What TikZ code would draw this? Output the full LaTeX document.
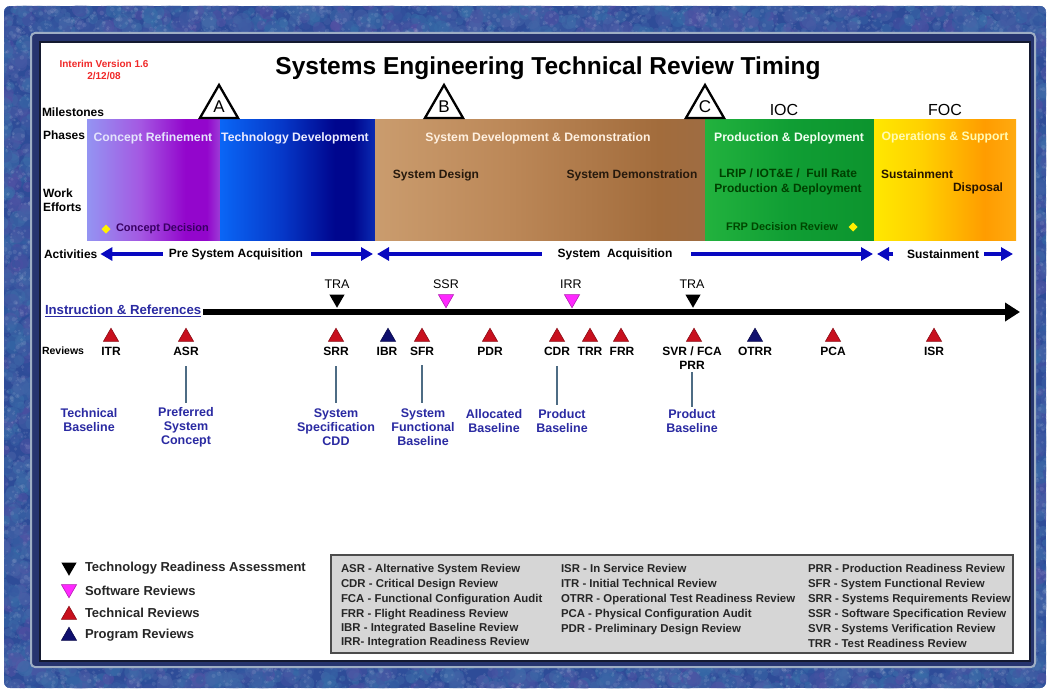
\documentclass[tikz,border=0pt]{standalone}
\usepackage{fontspec}
\setmainfont{Liberation Sans}
\usetikzlibrary{shapes.geometric,arrows.meta}
\newcommand\pxsize[2]{\fontsize{#1}{#2}\selectfont}

% frame colours
\definecolor{texA}{HTML}{2C4E9C}
\definecolor{texB}{HTML}{5E4CA4}
\definecolor{texC}{HTML}{3A7EAE}
\definecolor{texBase}{HTML}{2E4C98}
\definecolor{bevelBand}{HTML}{26346E}
\definecolor{bevelLight}{HTML}{9EAEC4}
\definecolor{panelEdge}{HTML}{141A30}
% phase bar colours
\definecolor{crA}{HTML}{9494F2}
\definecolor{crB}{HTML}{A458E2}
\definecolor{crC}{HTML}{9306CC}
\definecolor{crD}{HTML}{9C3CD6}
\definecolor{tdA}{HTML}{0A66F6}
\definecolor{tdB}{HTML}{0638C8}
\definecolor{tdC}{HTML}{00068E}
\definecolor{tdD}{HTML}{0A2CB4}
\definecolor{sdA}{HTML}{CA9C6E}
\definecolor{sdB}{HTML}{BC8858}
\definecolor{sdC}{HTML}{A26C3C}
\definecolor{sdD}{HTML}{9E6C42}
\definecolor{pdA}{HTML}{22B23E}
\definecolor{pdB}{HTML}{109E34}
\definecolor{pdC}{HTML}{0C942E}
\definecolor{osA}{HTML}{FFE800}
\definecolor{osB}{HTML}{FFD000}
\definecolor{osC}{HTML}{FF9C00}
\definecolor{osD}{HTML}{FFAA10}
% marks and text
\definecolor{revRed}{HTML}{C8101E}
\definecolor{revNavy}{HTML}{10106E}
\definecolor{swMag}{HTML}{FF28FF}
\definecolor{actBlue}{HTML}{0808C0}
\definecolor{baseBlue}{HTML}{2A2AA2}
\definecolor{connGrey}{HTML}{4E6C84}
\definecolor{boxGrey}{HTML}{D6D6D6}
\definecolor{verRed}{HTML}{F02828}
\definecolor{diaYellow}{HTML}{FFF000}

\pgfdeclarehorizontalshading{crshade}{100bp}{color(0bp)=(crA); color(25bp)=(crA); color(45bp)=(crB); color(62bp)=(crC); color(70bp)=(crC); color(75bp)=(crD); color(100bp)=(crD)}
\pgfdeclarehorizontalshading{tdshade}{100bp}{color(0bp)=(tdA); color(25bp)=(tdA); color(45bp)=(tdB); color(62bp)=(tdC); color(68bp)=(tdC); color(75bp)=(tdD); color(100bp)=(tdD)}
\pgfdeclarehorizontalshading{sdshade}{100bp}{color(0bp)=(sdA); color(25bp)=(sdA); color(45bp)=(sdB); color(68bp)=(sdC); color(75bp)=(sdD); color(100bp)=(sdD)}
\pgfdeclarehorizontalshading{pdshade}{100bp}{color(0bp)=(pdA); color(25bp)=(pdA); color(50bp)=(pdB); color(75bp)=(pdC); color(100bp)=(pdC)}
\pgfdeclarehorizontalshading{osshade}{100bp}{color(0bp)=(osA); color(25bp)=(osA); color(42bp)=(osB); color(64bp)=(osC); color(75bp)=(osD); color(100bp)=(osD)}

% mottled frame: soft blobs scattered over a strip (#1,#2 origin, #3 x #4 size, #5 count)
\newcommand\texblobs[5]{%
  \foreach \k in {1,...,#5}{%
    \pgfmathsetmacro\bx{#1+rnd*#3}%
    \pgfmathsetmacro\by{#2+rnd*#4}%
    \pgfmathsetmacro\br{2.5+rnd*6}%
    \pgfmathrandominteger{\ra}{0}{100}%
    \pgfmathrandominteger{\rb}{25}{100}%
    \fill[texA!\ra!texB!\rb!texC,opacity=0.5] (\bx,\by) circle[radius=\br];
  }%
  \foreach \k in {1,...,#5}{%
    \pgfmathsetmacro\bx{#1+rnd*#3}%
    \pgfmathsetmacro\by{#2+rnd*#4}%
    \pgfmathsetmacro\br{0.8+rnd*1.6}%
    \fill[white,opacity=0.09] (\bx,\by) circle[radius=\br];
  }%
}

\begin{document}
\begin{tikzpicture}[x=1pt,y=-1pt,
  every node/.style={inner sep=0pt,outer sep=0pt},
  rowlbl/.style={font=\bfseries\pxsize{12}{14},anchor=west},
  phasetxt/.style={font=\bfseries\pxsize{12.2}{14}},
  efforttxt/.style={font=\bfseries\pxsize{12}{14.5},align=center},
  acttxt/.style={font=\bfseries\pxsize{12}{14}},
  actarrow/.style={draw=actBlue,line width=4pt,-{Triangle[length=12pt,width=13pt]}},
  mile/.style={regular polygon,regular polygon sides=3,minimum size=44pt,draw=black,fill=white,line width=2.3pt,font=\pxsize{17}{17}},
  tri/.style={regular polygon,regular polygon sides=3,minimum size=17.5pt},
  techrev/.style={tri,fill=revRed,draw=revRed!70!black,line width=0.6pt},
  progrev/.style={tri,fill=revNavy,draw=revNavy!70!black,line width=0.6pt},
  swrev/.style={tri,shape border rotate=180,fill=swMag,draw=swMag!70!black,line width=0.6pt},
  trarev/.style={tri,shape border rotate=180,fill=black},
  revlbl/.style={font=\bfseries\pxsize{12}{14}},
  toplbl/.style={font=\pxsize{12.5}{14}},
  baselbl/.style={font=\bfseries\pxsize{12.5}{14},text=baseBlue,align=center},
  conn/.style={draw=connGrey,line width=2pt},
  legtxt/.style={font=\bfseries\pxsize{13}{15},anchor=west,text=black!85},
  abbr/.style={font=\bfseries\pxsize{11.4}{13},anchor=base west,text=black!85},
]
\useasboundingbox (0,0) rectangle (1048,690);
\pgfmathsetseed{11}

% ---------- frame ----------
\fill[white] (0,0) rectangle (1048,690);
\begin{scope}
  \clip[rounded corners=6] (4,6) rectangle (1046,688);
  \fill[texBase] (4,6) rectangle (1046,688);
  \texblobs{0}{2}{1050}{32}{800}
  \texblobs{0}{662}{1050}{30}{750}
  \texblobs{0}{30}{34}{640}{520}
  \texblobs{1030}{30}{20}{640}{320}
\end{scope}
\fill[bevelBand,rounded corners=4] (31,33) rectangle (1035,667);
\draw[bevelLight,line width=2pt,rounded corners=4] (31,33) rectangle (1035,667);
\fill[white] (40,42) rectangle (1030,661);
\draw[panelEdge,line width=1.2pt] (40,42) rectangle (1030,661);

% ---------- heading ----------
\node[font=\bfseries\pxsize{24.5}{28}] (title) at (548,68) {Systems Engineering Technical Review Timing};
\node[font=\bfseries\pxsize{10}{12.5},text=verRed,align=center] (version) at (104,70) {Interim Version 1.6\\2/12/08};

% ---------- row labels ----------
\node[rowlbl] (lmile) at (42,112) {Milestones};
\node[rowlbl] (lphase) at (43,135) {Phases};
\node[rowlbl,align=left] (lwork) at (43,200) {Work\\Efforts};
\node[rowlbl] (lact) at (44,254) {Activities};
\node[font=\bfseries\pxsize{10.5}{12},anchor=west] (lrev) at (42,351) {Reviews};

% ---------- phase bars ----------
\shade[shading=crshade] (87,119) rectangle (220,240);
\shade[shading=tdshade] (220,119) rectangle (375,240);
\shade[shading=sdshade] (375,119) rectangle (705,240);
\shade[shading=pdshade] (705,119) rectangle (874,240);
\shade[shading=osshade] (874,119) rectangle (1016,240);

\node[phasetxt,text=crA!25!white] (pcr) at (153,138) {Concept Refinement};
\node[phasetxt,text=white!92!blue] (ptd) at (295,138) {Technology Development};
\node[phasetxt,text=white!88!orange] (psd) at (538,138) {System Development \& Demonstration};
\node[phasetxt,text=white!94!green] (ppd) at (789,138) {Production \& Deployment};
\node[phasetxt,text=yellow!30!white] (pos) at (945,137) {Operations \& Support};

\node[efforttxt,text=black!80!brown] (wsd) at (436,175) {System Design};
\node[efforttxt,text=black!80!brown] (wdm) at (632,175) {System Demonstration};
\node[efforttxt,text=black!75!green] (wlrip) at (788,182) {LRIP / IOT\&E /\ \ Full Rate\\Production \& Deployment};
\node[efforttxt,text=black!85!orange,anchor=west] (wsus) at (881,174) {Sustainment};
\node[efforttxt,text=black!85!orange,anchor=east] (wdis) at (1003,188) {Disposal};

\node[diamond,fill=diaYellow,minimum size=9pt] (dcd) at (106,229) {};
\node[font=\bfseries\pxsize{11}{13},text=black!55!blue!70!purple,anchor=west] (tcd) at (116,229) {Concept Decision};
\node[font=\bfseries\pxsize{11}{13},text=black!72!green] (tfrp) at (782,227) {FRP Decision Review};
\node[diamond,fill=diaYellow,minimum size=9pt] (dfrp) at (853,227) {};

% ---------- milestones ----------
\node[mile] (ma) at (219,107) {A};
\node[mile] (mb) at (444,107) {B};
\node[mile] (mc) at (705,107) {C};
\node[font=\pxsize{16}{18}] (ioc) at (784,110) {IOC};
\node[font=\pxsize{16}{18}] (foc) at (945,110) {FOC};

% ---------- activities ----------
\node[acttxt] (apre) at (236,254) {Pre System Acquisition};
\node[acttxt] (asys) at (615,254) {System\ \ Acquisition};
\node[acttxt] (asus) at (943,254) {Sustainment};
\coordinate (tipA) at (373,254);
\coordinate (tipB) at (377,254);
\coordinate (tipC) at (873,254);
\coordinate (tipD) at (877,254);
\coordinate (tipE) at (1013,254);
\draw[actarrow,shorten <=6pt,shorten >=3pt] (apre.west) -- (lact.east);
\draw[actarrow,shorten <=8pt] (apre.east) -- (tipA);
\draw[actarrow,shorten <=16pt] (asys.west) -- (tipB);
\draw[actarrow,shorten <=19pt] (asys.east) -- (tipC);
\draw[actarrow,shorten <=14pt] (asus.west) -- (tipD);
\draw[actarrow,shorten <=5pt] (asus.east) -- (tipE);

% ---------- time line ----------
\node[font=\bfseries\pxsize{13.2}{15},text=baseBlue,anchor=west] (instr) at (45,311) {\underline{Instruction \& References}};
\coordinate (tend) at (1020,312);
\draw[line width=5.5pt,-{Triangle[length=15pt,width=18pt]},shorten <=2pt] (instr.east |- tend) -- (tend);

% marks above the time line
\node[trarev] (mtra1) at (337,299) {};
\node[swrev] (mssr) at (446,299) {};
\node[swrev] (mirr) at (572,299) {};
\node[trarev] (mtra2) at (693,299) {};
\node[toplbl] (ltra1) at (337,284) {TRA};
\node[toplbl] (lssr) at (446,284) {SSR};
\node[toplbl] (lirr) at (571,284) {IRR};
\node[toplbl] (ltra2) at (692,284) {TRA};

% reviews below the time line
\node[techrev] (titr) at (111,337) {};
\node[techrev] (tasr) at (186,337) {};
\node[techrev] (tsrr) at (336,337) {};
\node[progrev] (tibr) at (388,337) {};
\node[techrev] (tsfr) at (422,337) {};
\node[techrev] (tpdr) at (490,337) {};
\node[techrev] (tcdr) at (557,337) {};
\node[techrev] (ttrr) at (590,337) {};
\node[techrev] (tfrr) at (621,337) {};
\node[techrev] (tsvr) at (694,337) {};
\node[progrev] (totrr) at (755,337) {};
\node[techrev] (tpca) at (833,337) {};
\node[techrev] (tisr) at (934,337) {};

\node[revlbl] (ritr) at (111,351) {ITR};
\node[revlbl] (rasr) at (186,351) {ASR};
\node[revlbl] (rsrr) at (336,351) {SRR};
\node[revlbl] (ribr) at (387,351) {IBR};
\node[revlbl] (rsfr) at (422,351) {SFR};
\node[revlbl] (rpdr) at (490,351) {PDR};
\node[revlbl] (rcdr) at (557,351) {CDR};
\node[revlbl] (rtrr) at (590,351) {TRR};
\node[revlbl] (rfrr) at (622,351) {FRR};
\node[revlbl] (rsvr) at (692,351) {SVR / FCA};
\node[revlbl] (rprr) at (692,365) {PRR};
\node[revlbl] (rotrr) at (755,351) {OTRR};
\node[revlbl] (rpca) at (833,351) {PCA};
\node[revlbl] (risr) at (934,351) {ISR};

% baselines
\node[baselbl] (btech) at (89,420) {Technical\\Baseline};
\node[baselbl] (bpref) at (186,427) {Preferred\\System\\Concept};
\node[baselbl] (bspec) at (336,427) {System\\Specification\\CDD};
\node[baselbl] (bfunc) at (423,427) {System\\Functional\\Baseline};
\node[baselbl] (balloc) at (494,421) {Allocated\\Baseline};
\node[baselbl] (bprod1) at (562,421) {Product\\Baseline};
\node[baselbl] (bprod2) at (692,421) {Product\\Baseline};

\draw[conn,shorten <=11pt,shorten >=4pt] (rasr.south) -- (rasr.south |- bpref.north);
\draw[conn,shorten <=11pt,shorten >=6pt] (rsrr.south) -- (rsrr.south |- bspec.north);
\draw[conn,shorten <=10pt,shorten >=6pt] (rsfr.south) -- (rsfr.south |- bfunc.north);
\draw[conn,shorten <=11pt,shorten >=4pt] (rcdr.south) -- (rcdr.south |- bprod1.north);
\draw[conn,shorten <=3pt,shorten >=2pt] (rprr.south) -- (rprr.south |- bprod2.north);

% ---------- legend ----------
\node[trarev] (ltra) at (69,567) {};
\node[swrev] (lsw) at (69,589) {};
\node[techrev] (ltech) at (69,615) {};
\node[progrev] (lprog) at (69,636) {};
\node[legtxt] (ktra) at (85,568) {Technology Readiness Assessment};
\node[legtxt] (ksw) at (85,591) {Software Reviews};
\node[legtxt] (ktech) at (85,613) {Technical Reviews};
\node[legtxt] (kprog) at (85,635) {Program Reviews};

% ---------- abbreviations ----------
\node[draw=black!70,line width=1.4pt,fill=boxGrey,minimum width=682pt,minimum height=98pt,anchor=north west] (abox) at (331,555) {};
\node[abbr] (x1) at (341,572) {ASR - Alternative System Review};
\node[abbr] (x2) at (341,587) {CDR - Critical Design Review};
\node[abbr] (x3) at (341,602) {FCA - Functional Configuration Audit};
\node[abbr] (x4) at (341,617) {FRR - Flight Readiness Review};
\node[abbr] (x5) at (341,631) {IBR - Integrated Baseline Review};
\node[abbr] (x6) at (341,645) {IRR- Integration Readiness Review};
\node[abbr] (y1) at (561,572) {ISR - In Service Review};
\node[abbr] (y2) at (561,587) {ITR - Initial Technical Review};
\node[abbr] (y3) at (561,602) {OTRR - Operational Test Readiness Review};
\node[abbr] (y4) at (561,617) {PCA - Physical Configuration Audit};
\node[abbr] (y5) at (561,632) {PDR - Preliminary Design Review};
\node[abbr] (z1) at (808,572) {PRR - Production Readiness Review};
\node[abbr] (z2) at (808,587) {SFR - System Functional Review};
\node[abbr] (z3) at (808,602) {SRR - Systems Requirements Review};
\node[abbr] (z4) at (808,617) {SSR - Software Specification Review};
\node[abbr] (z5) at (808,632) {SVR - Systems Verification Review};
\node[abbr] (z6) at (808,647) {TRR - Test Readiness Review};
\end{tikzpicture}
\end{document}
